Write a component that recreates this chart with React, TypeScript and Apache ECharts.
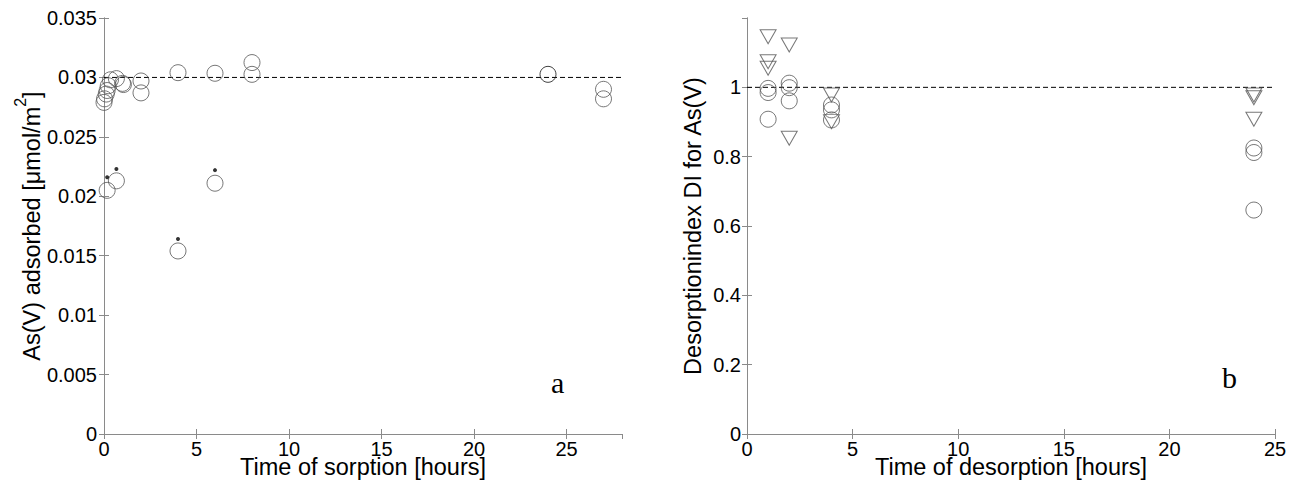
import React, { useEffect, useRef } from "react";
import * as echarts from "echarts";

// ---- Panel a: sorption ----
const sorptionHours = [0, 0.03, 0.12, 0.17, 0.23, 0.35, 0.67, 1.0, 1.05, 2.0, 2.0, 4.0, 6.0, 8.0, 8.0, 27.0, 27.0];
const sorptionValues = [0.0279, 0.0282, 0.0286, 0.0289, 0.0293, 0.0298, 0.0299, 0.0295, 0.0294, 0.0297, 0.0287, 0.0304, 0.03035, 0.03125, 0.03026, 0.029, 0.0282];
const sorptionDarkHours = [24.0];
const sorptionDarkValues = [0.03026];
const sorptionLowHours = [0.17, 0.67, 4.0, 6.0];
const sorptionLowValues = [0.0205, 0.0213, 0.0154, 0.0211];
const sorptionDotValues = [0.0216, 0.0223, 0.0164, 0.0222];
const sorptionRefLine = [0.03, 0.03];
const sorptionRefHours = [0, 28];

// ---- Panel b: desorption ----
const triHours = [1, 1, 1, 2, 2, 4, 4, 24, 24, 24];
const triValues = [1.146, 1.074, 1.055, 1.122, 0.853, 0.978, 0.901, 0.978, 0.97, 0.908];
const circHours = [1, 1, 1, 2, 2, 2, 4, 4, 4, 24, 24, 24];
const circValues = [0.997, 0.985, 0.908, 1.012, 0.999, 0.961, 0.949, 0.935, 0.906, 0.825, 0.812, 0.646];
const desorpRefLine = [1, 1];
const desorpRefHours = [0, 25];

const FONT = "Liberation Sans, Arial, sans-serif";
const AX = "#8a8a8a";

const zip = (a: number[], b: number[]) => a.map((v, i) => [v, b[i]]);

export default function App() {
  const ref = useRef<HTMLDivElement>(null);
  useEffect(() => {
    if (!ref.current) return;
    const chart = echarts.init(ref.current, null, { renderer: "svg" });
    const label = { color: "#000", fontSize: 20, fontFamily: FONT };
    const baseAxis = (extra: any) => ({
      type: "value",
      axisLine: { show: true, lineStyle: { color: AX, width: 1 } },
      axisTick: { show: true, inside: true, length: 5, lineStyle: { color: AX } },
      splitLine: { show: false },
      nameMoveOverlap: false,
      ...extra,
    });
    const hidden = { show: false };
    const gray = { color: "transparent", borderColor: "#555", borderWidth: 1 };
    const nameStyle = { color: "#000", fontSize: 23.5, fontFamily: FONT };
    const option: any = {
      animation: false,
      backgroundColor: "#fff",
      grid: [
        { left: 104, top: 18, width: 518, height: 416, outerBoundsMode: "none", containLabel: false },
        { left: 747, top: 18, width: 528, height: 416, outerBoundsMode: "none", containLabel: false },
      ],
      xAxis: [
        baseAxis({
          gridIndex: 0, min: 0, max: 28, interval: 5, position: "bottom",
          axisLabel: { ...label, margin: 5, showMaxLabel: false },
          name: "Time of sorption [hours]", nameLocation: "middle", nameGap: 21,
          nameTextStyle: nameStyle,
        }),
        baseAxis({ gridIndex: 0, min: 0, max: 28, interval: 5, position: "top", axisLabel: hidden }),
        baseAxis({
          gridIndex: 1, min: 0, max: 25, interval: 5, position: "bottom",
          axisLabel: { ...label, margin: 5 },
          name: "Time of desorption [hours]", nameLocation: "middle", nameGap: 21,
          nameTextStyle: nameStyle,
        }),
        baseAxis({ gridIndex: 1, min: 0, max: 25, interval: 5, position: "top", axisLabel: hidden }),
      ],
      yAxis: [
        baseAxis({
          gridIndex: 0, min: 0, max: 0.035, interval: 0.005, position: "left",
          axisLabel: { ...label, margin: 7 },
          name: "{n|As(V) adsorbed [μmol/m}{s|2}{n|]}", nameLocation: "middle", nameGap: 60,
          nameTextStyle: {
            ...nameStyle,
            rich: {
              n: { fontSize: 23.5, fontFamily: FONT, color: "#000", lineHeight: 32, verticalAlign: "bottom" },
              s: { fontSize: 16, fontFamily: FONT, color: "#000", lineHeight: 32, verticalAlign: "top" },
            },
          },
        }),
        baseAxis({ gridIndex: 0, min: 0, max: 0.035, interval: 0.005, position: "right", axisLabel: hidden }),
        baseAxis({
          gridIndex: 1, min: 0, max: 1.2, interval: 0.2, position: "left",
          axisLabel: { ...label, margin: 6, showMaxLabel: false },
          name: "Desorptionindex DI for As(V)", nameLocation: "middle", nameGap: 42,
          nameTextStyle: nameStyle,
        }),
        baseAxis({ gridIndex: 1, min: 0, max: 1.2, interval: 0.2, position: "right", axisLabel: hidden }),
      ],
      series: [
        {
          type: "line", xAxisIndex: 0, yAxisIndex: 0, data: zip(sorptionRefHours, sorptionRefLine),
          symbol: "none", lineStyle: { color: "#000", width: 1, type: [5, 3] }, z: 1,
        },
        {
          type: "scatter", xAxisIndex: 0, yAxisIndex: 0, data: zip(sorptionHours, sorptionValues),
          symbol: "circle", symbolSize: 16, itemStyle: gray, z: 2,
        },
        {
          type: "scatter", xAxisIndex: 0, yAxisIndex: 0, data: zip(sorptionDarkHours, sorptionDarkValues),
          symbol: "circle", symbolSize: 16, itemStyle: { color: "transparent", borderColor: "#111", borderWidth: 1 }, z: 2,
        },
        {
          type: "scatter", xAxisIndex: 0, yAxisIndex: 0, data: zip(sorptionLowHours, sorptionLowValues),
          symbol: "circle", symbolSize: 16, itemStyle: gray, z: 2,
        },
        {
          type: "scatter", xAxisIndex: 0, yAxisIndex: 0, data: zip(sorptionLowHours, sorptionDotValues),
          symbol: "circle", symbolSize: 4, itemStyle: { color: "#000" }, z: 3,
        },
        {
          type: "line", xAxisIndex: 2, yAxisIndex: 2, data: zip(desorpRefHours, desorpRefLine),
          symbol: "none", lineStyle: { color: "#000", width: 1, type: [5, 3] }, z: 1,
        },
        {
          type: "scatter", xAxisIndex: 2, yAxisIndex: 2, data: zip(triHours, triValues),
          symbol: "triangle", symbolRotate: 180, symbolSize: [16, 14], itemStyle: gray, z: 2,
        },
        {
          type: "scatter", xAxisIndex: 2, yAxisIndex: 2, data: zip(circHours, circValues),
          symbol: "circle", symbolSize: 16, itemStyle: gray, z: 2,
        },
      ],
      graphic: [
        { type: "text", left: 551, top: 367, style: { text: "a", fontSize: 30, fontFamily: "Liberation Serif, serif", fill: "#000" } },
        { type: "text", left: 1222, top: 362, style: { text: "b", fontSize: 30, fontFamily: "Liberation Serif, serif", fill: "#000" } },
      ],
    };
    chart.setOption(option);
    return () => chart.dispose();
  }, []);
  return (
    <div
      ref={ref}
      style={{ position: "fixed", left: 0, top: 0, width: 1303, height: 489, background: "#fff" }}
    />
  );
}
